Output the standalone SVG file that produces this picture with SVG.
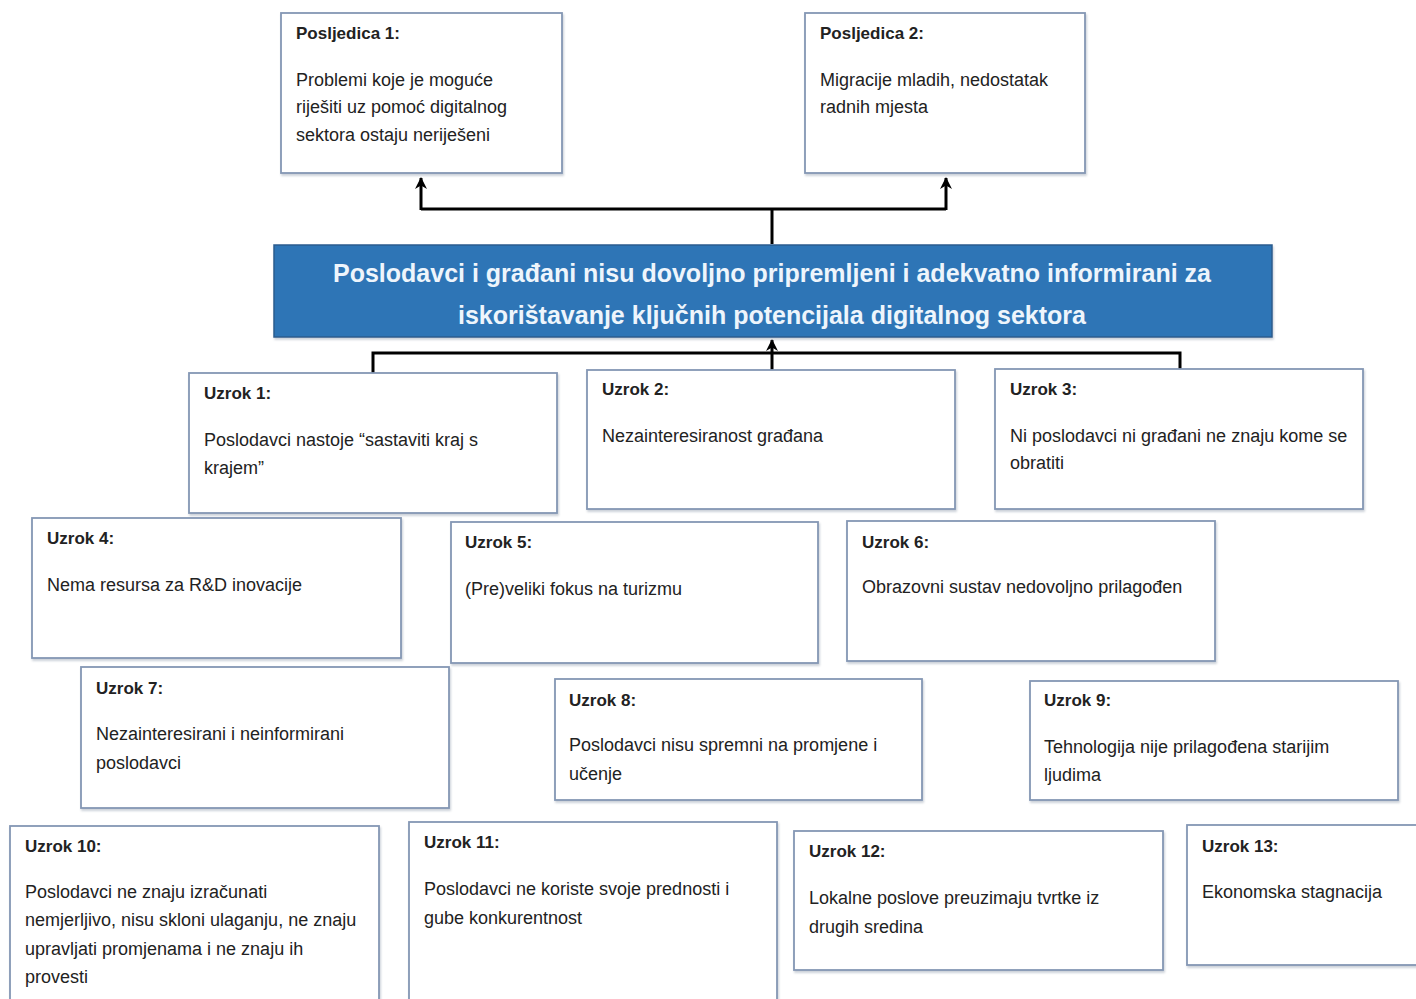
<svg xmlns="http://www.w3.org/2000/svg" width="1416" height="999" viewBox="0 0 1416 999">
<defs>
<marker id="arr" markerWidth="14" markerHeight="14" refX="11" refY="7" orient="auto" markerUnits="userSpaceOnUse">
<path d="M0,1 L12,7 L0,13 L3.5,7 Z" fill="#000"/>
</marker>
<filter id="sh" x="-5%" y="-5%" width="110%" height="115%">
<feDropShadow dx="1" dy="2" stdDeviation="1.2" flood-color="#8a96a8" flood-opacity="0.45"/>
</filter>
</defs>
<style>
.box{fill:#fff;stroke:#8497b4;stroke-width:1.8;filter:url(#sh)}
.main{fill:#2e74b6;stroke:#2a5c8e;stroke-width:1.5;filter:url(#sh)}
.t{font-family:"Liberation Sans",Arial,sans-serif;font-size:18px;fill:#222}
.h{font-family:"Liberation Sans",Arial,sans-serif;font-size:17px;font-weight:bold;fill:#222}
.m{font-family:"Liberation Sans",Arial,sans-serif;font-size:25px;font-weight:bold;fill:#eef5fc;text-anchor:middle}
.c{fill:none;stroke:#000;stroke-width:3}
</style>
<rect width="1416" height="999" fill="#fff"/>

<g id="connectors">
<path class="c" d="M421,209 H946"/>
<path class="c" d="M421,210 V178" marker-end="url(#arr)"/>
<path class="c" d="M946,210 V178" marker-end="url(#arr)"/>
<path class="c" d="M772,244 V209"/>
<path class="c" d="M373,373 V353 H1180 V369"/>
<path class="c" d="M772,370 V340" marker-end="url(#arr)"/>
</g>

<g id="posljedica1">
<rect class="box" x="281" y="13" width="281" height="160"/>
<text class="h" x="296" y="39">Posljedica 1:</text>
<text class="t" x="296" y="86">Problemi koje je moguće</text>
<text class="t" x="296" y="113">riješiti uz pomoć digitalnog</text>
<text class="t" x="296" y="141">sektora ostaju neriješeni</text>
</g>

<g id="posljedica2">
<rect class="box" x="805" y="13" width="280" height="160"/>
<text class="h" x="820" y="39">Posljedica 2:</text>
<text class="t" x="820" y="86">Migracije mladih, nedostatak</text>
<text class="t" x="820" y="113">radnih mjesta</text>
</g>

<g id="problem">
<rect class="main" x="274" y="245" width="998" height="92"/>
<text class="m" x="772" y="282">Poslodavci i građani nisu dovoljno pripremljeni i adekvatno informirani za</text>
<text class="m" x="772" y="324">iskorištavanje ključnih potencijala digitalnog sektora</text>
</g>

<g id="uzrok1">
<rect class="box" x="189" y="373" width="368" height="140"/>
<text class="h" x="204" y="399">Uzrok 1:</text>
<text class="t" x="204" y="446">Poslodavci nastoje “sastaviti kraj s</text>
<text class="t" x="204" y="474">krajem”</text>
</g>

<g id="uzrok2">
<rect class="box" x="587" y="370" width="368" height="139"/>
<text class="h" x="602" y="395">Uzrok 2:</text>
<text class="t" x="602" y="442">Nezainteresiranost građana</text>
</g>

<g id="uzrok3">
<rect class="box" x="995" y="369" width="368" height="140"/>
<text class="h" x="1010" y="395">Uzrok 3:</text>
<text class="t" x="1010" y="442">Ni poslodavci ni građani ne znaju kome se</text>
<text class="t" x="1010" y="469">obratiti</text>
</g>

<g id="uzrok4">
<rect class="box" x="32" y="518" width="369" height="140"/>
<text class="h" x="47" y="544">Uzrok 4:</text>
<text class="t" x="47" y="591">Nema resursa za R&amp;D inovacije</text>
</g>

<g id="uzrok5">
<rect class="box" x="451" y="522" width="367" height="141"/>
<text class="h" x="465" y="548">Uzrok 5:</text>
<text class="t" x="465" y="595">(Pre)veliki fokus na turizmu</text>
</g>

<g id="uzrok6">
<rect class="box" x="847" y="521" width="368" height="140"/>
<text class="h" x="862" y="548">Uzrok 6:</text>
<text class="t" x="862" y="593">Obrazovni sustav nedovoljno prilagođen</text>
</g>

<g id="uzrok7">
<rect class="box" x="81" y="667" width="368" height="141"/>
<text class="h" x="96" y="694">Uzrok 7:</text>
<text class="t" x="96" y="740">Nezainteresirani i neinformirani</text>
<text class="t" x="96" y="769">poslodavci</text>
</g>

<g id="uzrok8">
<rect class="box" x="555" y="679" width="367" height="121"/>
<text class="h" x="569" y="706">Uzrok 8:</text>
<text class="t" x="569" y="751">Poslodavci nisu spremni na promjene i</text>
<text class="t" x="569" y="780">učenje</text>
</g>

<g id="uzrok9">
<rect class="box" x="1030" y="681" width="368" height="119"/>
<text class="h" x="1044" y="706">Uzrok 9:</text>
<text class="t" x="1044" y="753">Tehnologija nije prilagođena starijim</text>
<text class="t" x="1044" y="781">ljudima</text>
</g>

<g id="uzrok10">
<rect class="box" x="10" y="826" width="369" height="200"/>
<text class="h" x="25" y="852">Uzrok 10:</text>
<text class="t" x="25" y="898">Poslodavci ne znaju izračunati</text>
<text class="t" x="25" y="926">nemjerljivo, nisu skloni ulaganju, ne znaju</text>
<text class="t" x="25" y="955">upravljati promjenama i ne znaju ih</text>
<text class="t" x="25" y="983">provesti</text>
</g>

<g id="uzrok11">
<rect class="box" x="409" y="822" width="368" height="200"/>
<text class="h" x="424" y="848">Uzrok 11:</text>
<text class="t" x="424" y="895">Poslodavci ne koriste svoje prednosti i</text>
<text class="t" x="424" y="924">gube konkurentnost</text>
</g>

<g id="uzrok12">
<rect class="box" x="794" y="831" width="369" height="139"/>
<text class="h" x="809" y="857">Uzrok 12:</text>
<text class="t" x="809" y="904">Lokalne poslove preuzimaju tvrtke iz</text>
<text class="t" x="809" y="933">drugih sredina</text>
</g>

<g id="uzrok13">
<rect class="box" x="1187" y="825" width="240" height="140"/>
<text class="h" x="1202" y="852">Uzrok 13:</text>
<text class="t" x="1202" y="898">Ekonomska stagnacija</text>
</g>
</svg>
